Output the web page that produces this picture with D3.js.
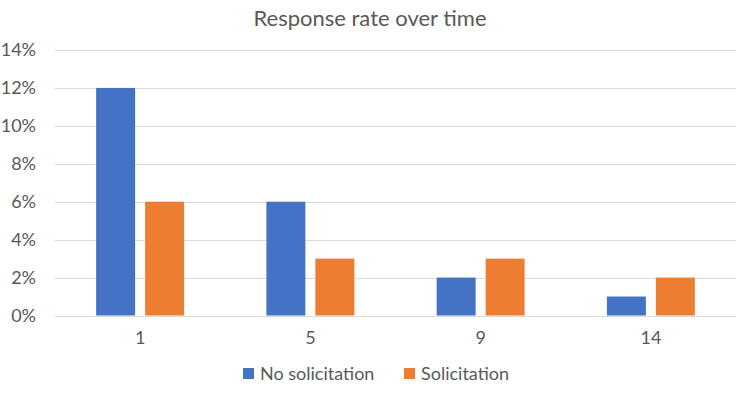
<!DOCTYPE html>
<html>
<head>
<meta charset="utf-8">
<script src="https://cdn.jsdelivr.net/npm/d3@7"></script>
<style>
  body { margin: 0; background: #fff; }
  text { font-family: Lato, "Open Sans", sans-serif; fill: #595959; }
</style>
</head>
<body>
<div id="chart"></div>
<script>
var categories = ["1", "5", "9", "14"];
var seriesNames = ["No solicitation", "Solicitation"];
var noSolicitation = [0.12, 0.06, 0.02, 0.01];
var solicitation = [0.06, 0.03, 0.03, 0.02];
var yTicks = [0, 0.02, 0.04, 0.06, 0.08, 0.10, 0.12, 0.14];
var colores = ["#4472C4", "#ED7D31"];

var width = 738, height = 396;
var plotLeft = 55, plotRight = 736, plotTop = 50, plotBottom = 315.5;

var svg = d3.select("#chart").append("svg")
    .attr("width", width)
    .attr("height", height);

var x = d3.scaleBand().domain(categories).range([plotLeft, plotRight]).padding(0);
var sub = d3.scaleBand().domain(seriesNames).range([0, x.bandwidth()])
    .paddingInner(0.204).paddingOuter(0.84);
var y = d3.scaleLinear().domain([0, 0.14]).range([plotBottom, plotTop]);

// titulo
svg.append("text")
    .attr("x", 370)
    .attr("y", 26)
    .attr("text-anchor", "middle")
    .style("font-size", "22px")
    .text("Response rate over time");

// grid
svg.append("g").selectAll("line")
    .data(yTicks)
    .enter().append("line")
    .attr("x1", plotLeft).attr("x2", plotRight)
    .attr("y1", function(d){ return Math.round(y(d)) + 0.5; })
    .attr("y2", function(d){ return Math.round(y(d)) + 0.5; })
    .attr("stroke", "#d9d9d9")
    .attr("stroke-width", 1);

// eje y
var yAxis = d3.axisLeft(y).tickValues(yTicks).tickSize(0).tickPadding(0)
    .tickFormat(d3.format(".0%"));
var gy = svg.append("g").attr("transform", "translate(36,0)").call(yAxis);
gy.select(".domain").remove();
gy.selectAll("text").style("font-size", "18px").attr("fill", "#595959");

// eje x
var xAxis = d3.axisBottom(x).tickSize(0).tickPadding(0);
var gx = svg.append("g").attr("transform", "translate(0," + (plotBottom + 16) + ")").call(xAxis);
gx.select(".domain").remove();
gx.selectAll("text").style("font-size", "18px").attr("fill", "#595959");

// barras
var seriesData = [noSolicitation, solicitation];
seriesData.forEach(function(values, s){
    svg.append("g").selectAll("rect")
        .data(values)
        .enter().append("rect")
        .attr("x", function(d, i){ return x(categories[i]) + sub(seriesNames[s]); })
        .attr("width", sub.bandwidth())
        .attr("y", function(d){ return y(d); })
        .attr("height", function(d){ return y(0) - y(d); })
        .attr("fill", colores[s]);
});

// leyenda
var legendPos = [243, 404];
var legend = svg.append("g").selectAll("g")
    .data(seriesNames)
    .enter().append("g")
    .attr("transform", function(d, i){ return "translate(" + legendPos[i] + ",368)"; });
legend.append("rect")
    .attr("width", 11).attr("height", 11)
    .attr("fill", function(d, i){ return colores[i]; });
legend.append("text")
    .attr("x", 17).attr("y", 12)
    .style("font-size", "18px")
    .text(function(d){ return d; });
</script>
</body>
</html>
